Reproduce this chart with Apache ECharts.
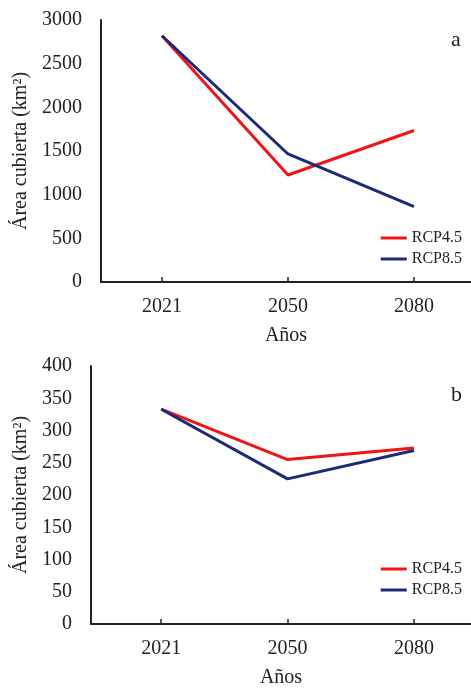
<!DOCTYPE html>
<html>
<head>
<meta charset="utf-8">
<script src="https://cdn.jsdelivr.net/npm/echarts@6/dist/echarts.min.js"></script>
<style>html,body{margin:0;padding:0;background:#fff}#c{width:471px;height:689px}</style>
</head>
<body>
<div id="c"></div>
<script>
const years = ['2021', '2050', '2080'];
const seriesNames = ['RCP4.5', 'RCP8.5'];
const aRcp45 = [2820, 1225, 1735];
const aRcp85 = [2820, 1466, 862];
const bRcp45 = [333, 255, 273];
const bRcp85 = [333, 225, 269];

const FONT = 'Liberation Serif';
const TXT = '#222';
const RED = '#f01414';
const BLUE = '#1b2a78';
const idx = years.map((_, i) => i);
const pts = arr => arr.map((v, i) => [i, v]);

function xAxisFor(gridIndex, min) {
  return {
    gridIndex, type: 'value', min: min, max: 2.452,
    name: 'Años', nameLocation: 'middle', nameGap: 44,
    nameTextStyle: { fontFamily: FONT, fontSize: 20, color: TXT },
    axisLine: { show: true, onZero: false, lineStyle: { color: TXT, width: 2 } },
    axisTick: { show: true, inside: true, length: 5, customValues: idx, lineStyle: { color: TXT, width: 1.5 } },
    axisLabel: { customValues: idx, formatter: v => years[Math.round(v)] || '', margin: 15,
      fontFamily: FONT, fontSize: 20, color: TXT },
    splitLine: { show: false }
  };
}
function yAxisFor(gridIndex, max, interval, gap) {
  return {
    gridIndex, type: 'value', min: 0, max: max, interval: interval,
    name: 'Área cubierta (km²)', nameLocation: 'middle', nameGap: gap,
    nameTextStyle: { fontFamily: FONT, fontSize: 20, color: TXT },
    axisLine: { show: true, onZero: false, lineStyle: { color: TXT, width: 2 } },
    axisTick: { show: false },
    axisLabel: { margin: 19, fontFamily: FONT, fontSize: 20, color: TXT, formatter: v => String(v) },
    splitLine: { show: false }
  };
}
function legendFor(top) {
  return {
    data: seriesNames, orient: 'vertical', right: 4, top: top,
    icon: 'rect', itemWidth: 26, itemHeight: 3, itemGap: 5,
    textStyle: { fontFamily: FONT, fontSize: 16, color: TXT },
    selectedMode: false
  };
}
function lineSeries(name, data, color, xi) {
  return {
    name, type: 'line', xAxisIndex: xi, yAxisIndex: xi, data: pts(data),
    showSymbol: false, symbol: 'none', lineStyle: { color, width: 3 }, itemStyle: { color },
    animation: false
  };
}

const chart = echarts.init(document.getElementById('c'), null, { renderer: 'canvas' });
chart.setOption({
  backgroundColor: '#fff',
  animation: false,
  grid: [
    { left: 101, top: 20, height: 262, right: 0 },
    { left: 91, top: 366, height: 262, right: 0 }
  ],
  xAxis: [xAxisFor(0, -0.484), xAxisFor(1, -0.556)],
  yAxis: [yAxisFor(0, 3000, 500, 70), yAxisFor(1, 400, 50, 60)],
  legend: [legendFor(225), legendFor(556)],
  series: [
    lineSeries(seriesNames[0], aRcp45, RED, 0),
    lineSeries(seriesNames[1], aRcp85, BLUE, 0),
    lineSeries(seriesNames[0], bRcp45, RED, 1),
    lineSeries(seriesNames[1], bRcp85, BLUE, 1)
  ],
  graphic: [
    { type: 'text', left: 451, top: 29, style: { text: 'a', fontFamily: FONT, fontSize: 22, fill: TXT } },
    { type: 'text', left: 451, top: 384, style: { text: 'b', fontFamily: FONT, fontSize: 22, fill: TXT } }
  ]
});
</script>
</body>
</html>
